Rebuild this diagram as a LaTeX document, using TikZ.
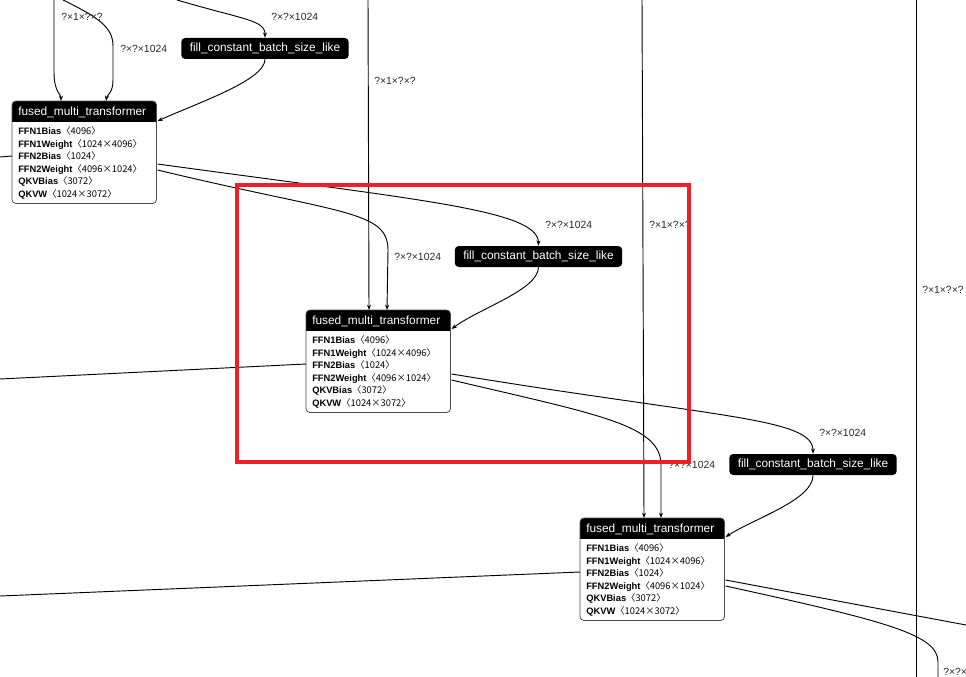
\documentclass[tikz,border=0pt]{standalone}
\usepackage{fontspec}
\setmainfont{Liberation Sans}
\newfontfamily\cjk{Noto Sans CJK SC}
\usetikzlibrary{arrows.meta,calc}
\definecolor{hilite}{RGB}{236,32,38}
\definecolor{labelgray}{RGB}{40,40,40}
\tikzset{
  fusedbody/.style={anchor=north west, inner sep=0pt, minimum width=108pt, minimum height=76.5pt},
  headtext/.style={anchor=west, text=white, inner sep=0pt, font=\fontsize{8.9}{10}\selectfont},
  paramtext/.style={anchor=base west, inner sep=0pt, font=\fontsize{7}{8}\selectfont},
  fillop/.style={fill=black, text=white, rounded corners=3pt, inner xsep=6.4pt, inner ysep=0pt, minimum height=15.75pt, font=\fontsize{8.9}{10}\selectfont},
  shapelabel/.style={anchor=west, inner sep=0pt, text=labelgray, font=\fontsize{7.8}{9}\selectfont},
  flow/.style={line width=0.7pt, -{Stealth[length=4pt, width=3pt]}},
  plain/.style={line width=0.7pt},
}
% fused op box: name, x, y (top left)
\newcommand{\fusedop}[3]{%
  \node[fusedbody] (#1) at (#2,#3) {};
  \begin{scope}
    \clip[rounded corners=3pt] (#1.north west) rectangle (#1.south east);
    \fill[black] (#1.north west) rectangle ($(#1.north east)+(0,21)$);
  \end{scope}
  \draw[rounded corners=3pt, line width=0.6pt, black!70] (#1.north west) rectangle (#1.south east);
  \node[headtext] (#1-title) at ($(#1.north west)+(6,11)$) {fused\_multi\_transformer};
  \foreach \pname/\pshape [count=\i from 0] in {FFN1Bias/4096, FFN1Weight/1024×4096, FFN2Bias/1024, FFN2Weight/4096×1024, QKVBias/3072, QKVW/1024×3072}
    \node[paramtext] (#1-p\i) at ($(#1.north west)+(6,33.5+12.6*\i)$) {\textbf{\pname}\cjk{〈}\pshape\cjk{〉}};
}
\begin{document}
\begin{tikzpicture}[x=0.75pt, y=-0.75pt]
  \useasboundingbox (0,0) rectangle (966,677);
  \clip (0,0) rectangle (966,677);
  % operators
  \fusedop{fmtA}{12}{101}
  \fusedop{fmtB}{306}{310}
  \fusedop{fmtC}{580}{518}
  \node[fillop] (fillA) at (265,48.5) {fill\_constant\_batch\_size\_like};
  \node[fillop] (fillB) at (538.5,256.5) {fill\_constant\_batch\_size\_like};
  \node[fillop] (fillC) at (813,464.5) {fill\_constant\_batch\_size\_like};
  % loose ends at the border
  \coordinate (topA) at (54,0);
  \coordinate (topB) at (63,0);
  \coordinate (topC) at (177,0);
  \coordinate (topD) at (368,0);
  \coordinate (topE) at (642,0);
  \coordinate (topF) at (916,0);
  \coordinate (bottomF) at (916,677);
  \coordinate (leftA) at (0,157);
  \coordinate (leftB) at (0,379);
  \coordinate (leftC) at (0,596);
  \coordinate (rightC) at (966,625);
  \coordinate (bottomC) at (938,677);
  % edges
  \draw[flow] (topA) -- (54,72) .. controls (54,92) and (61,94) .. ($(fmtA.north west)+(49,0)$);
  \draw[flow] (topB) .. controls (100,18) and (113,28) .. (113,46) -- (113,80) .. controls (113,93) and (107,95) .. ($(fmtA.north west)+(94,0)$);
  \draw[flow] (topC) .. controls (245,20) and (265,20) .. (fillA.north);
  \draw[flow] (fillA.south) .. controls (265,80) and (200,102) .. ($(fmtA.north east)+(1,20)$);
  \draw[flow] (topD) -- ($(fmtB.north west)+(63,0)$);
  \draw[flow] ($(fmtA.north east)+(1,63)$) .. controls (420,200) and (538,210) .. (fillB.north);
  \draw[flow] ($(fmtA.north east)+(1,69)$) .. controls (340,214) and (388,210) .. (388,250) -- ($(fmtB.north west)+(81,0)$);
  \draw[flow] (fillB.south) .. controls (538,290) and (480,308) .. ($(fmtB.north east)+(1,19)$);
  \draw[flow] (topE) -- ($(fmtC.north west)+(64,0)$);
  \draw[plain] (leftA) -- ($(fmtA.north west)+(0,55)$);
  \draw[plain] (leftB) -- ($(fmtB.north west)+(0,54)$);
  \draw[plain] (leftC) -- ($(fmtC.north west)+(0,54)$);
  \draw[flow] ($(fmtB.north east)+(1,64)$) .. controls (720,418) and (813,418) .. (fillC.north);
  \draw[flow] ($(fmtB.north east)+(1,70)$) .. controls (600,415) and (661,425) .. (661,465) -- ($(fmtC.north west)+(81,0)$);
  \draw[flow] (fillC.south) .. controls (813,500) and (755,518) .. ($(fmtC.north east)+(1,19)$);
  \draw[plain] ($(fmtC.north east)+(1,62)$) -- (rightC);
  \draw[plain] ($(fmtC.north east)+(1,68)$) .. controls (890,622) and (938,635) .. (938,662) -- (bottomC);
  \draw[plain] (topF) -- (bottomF);
  % shape labels
  \node[shapelabel] (lblA) at (61,17) {?×1×?×?};
  \node[shapelabel] (lblB) at (120,49) {?×?×1024};
  \node[shapelabel] (lblC) at (271,17) {?×?×1024};
  \node[shapelabel] (lblD) at (374,81) {?×1×?×?};
  \node[shapelabel] (lblE) at (545,225) {?×?×1024};
  \node[shapelabel] (lblF) at (394,257) {?×?×1024};
  \node[shapelabel] (lblG) at (649,225) {?×1×?×?};
  \node[shapelabel] (lblH) at (922,290) {?×1×?×?};
  \node[shapelabel] (lblI) at (819,433) {?×?×1024};
  \node[shapelabel] (lblJ) at (668,465) {?×?×1024};
  \node[shapelabel] (lblK) at (943,672) {?×?×};
  % highlight
  \draw[hilite, line width=3pt] (237,185) rectangle (689,462);
\end{tikzpicture}
\end{document}
